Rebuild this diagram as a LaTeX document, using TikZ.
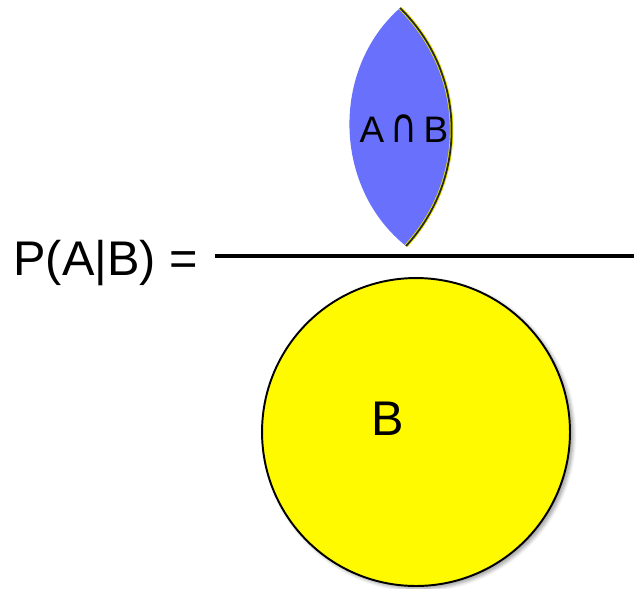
\documentclass[tikz,border=0pt]{standalone}
\usepackage{fontspec}
\setmainfont{Liberation Sans}
\newfontfamily\symfont{DejaVu Sans}
\usepackage{graphicx}
\usepackage{tikz}
\usetikzlibrary{shadows.blur}
\definecolor{capblue}{RGB}{104,112,252}
\definecolor{setyellow}{RGB}{255,250,0}
\tikzset{
%Style for the set circle and the lens
set circle/.style={circle, draw=black, line width=1.1pt, fill=setyellow,
  minimum size=6.16cm, inner sep=0pt,
  blur shadow={shadow xshift=0.06cm, shadow yshift=-0.05cm,
    shadow blur steps=6, shadow opacity=40}},
lens/.style={fill=capblue, draw=none},
%Style for the fraction bar and the texts
fraction bar/.style={line width=2.6pt},
big text/.style={font=\fontsize{27.7}{33}\selectfont, inner sep=0pt},
small text/.style={font=\fontsize{21}{25}\selectfont, inner sep=0pt},
}

\begin{document}
\begin{tikzpicture}[x=0.02cm,y=-0.02cm]

\useasboundingbox (0,0) rectangle (634,588);

% left hand side and the bar
\node[big text, anchor=base west] (lhs) at (13,275) {P(A|B) =};
\path coordinate (barL) at (215,256) coordinate (barR) at (634,256);
\draw[fraction bar] (barL) -- (barR);

% numerator: the lens A cap B
\path coordinate (lensTop) at (400,8) coordinate (lensBot) at (406,246);
\fill[lens] (lensTop) to[bend right=50] (lensBot) to[bend right=44] (lensTop);
\draw[setyellow!80!olive, line width=2pt, xshift=0.06cm] (lensBot) to[bend right=44] (lensTop);
\draw[black!85, line width=1pt] (lensBot) to[bend right=44] (lensTop);
\node[small text] (capAB) at (404,129) {A\,{\symfont\scalebox{1}[1.3]{∩}}\,B};

% denominator: the set B
\node[set circle] (setB) at (416,432) {};
\node[big text] (labB) at (388,419) {B};

\end{tikzpicture}
\end{document}
